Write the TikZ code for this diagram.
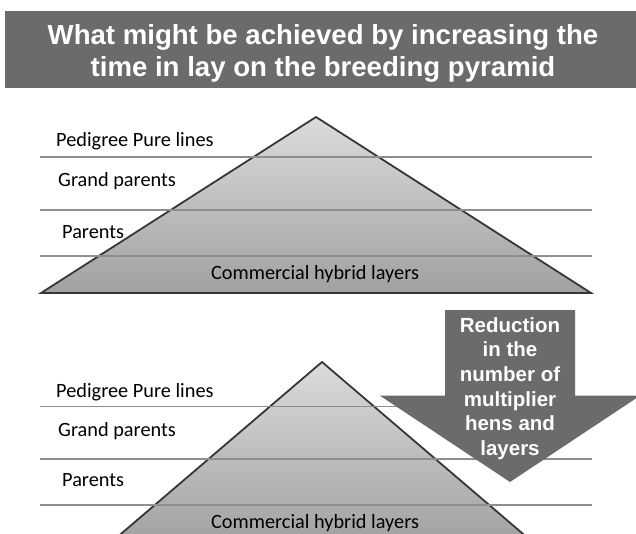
\documentclass[tikz,border=0pt]{standalone}
\usepackage{fontspec}
\setmainfont{Carlito}
\newfontfamily\headfont{Liberation Sans}
\definecolor{bargray}{HTML}{6B6B6B}
\definecolor{rulegray}{HTML}{8E8E8E}
\definecolor{edgegray}{HTML}{363636}
\tikzset{>=latex,
  heading/.style={anchor=north,inner sep=0,align=center,text=white,
    font=\headfont\bfseries\fontsize{27.6}{32.7}\selectfont},
  arrowtext/.style={anchor=north,inner sep=0,align=center,text=white,
    font=\headfont\bfseries\fontsize{20.5}{24.6}\selectfont},
  layer/.style={anchor=base west,inner sep=0,font=\fontsize{20.3}{24}\selectfont},
  hybrid/.style={anchor=base,inner sep=0,font=\fontsize{20.3}{24}\selectfont},
  pyramid/.style={draw=edgegray,line width=1.8,top color=black!14,bottom color=black!37},
  rule/.style={rulegray,line width=1.4}
}
\begin{document}
\begin{tikzpicture}[x=1pt,y=-1pt]
  \useasboundingbox (0,0) rectangle (636,534);
  \clip (0,0) rectangle (636,534);
  % Title
  \fill[bargray] (5,11.5) rectangle (640,88);
  \node[heading] (title) at (323,24)
  {What might be achieved by increasing the\\time in lay on the breeding pyramid};
  % Upper pyramid
  \filldraw[pyramid] (41,293) -- (316,117) -- (591,293) -- cycle;
  \foreach \y in {157,210,256}
    \draw[rule] (40,\y) -- (592,\y);
  \node[layer] (pure1) at (56,147) {Pedigree Pure lines};
  \node[layer] (grand1) at (58,187) {Grand parents};
  \node[layer] (parents1) at (62,239) {Parents};
  \node[hybrid] (hybrid1) at (315,279) {Commercial hybrid layers};
  % Lower pyramid
  \filldraw[pyramid] (108,545) -- (322,362) -- (536,545) -- cycle;
  \foreach \y in {406.5,459,505}
    \draw[rule] (40,\y) -- (592,\y);
  \node[layer] (pure2) at (56,397.7) {Pedigree Pure lines};
  \node[layer] (grand2) at (58,436.7) {Grand parents};
  \node[layer] (parents2) at (62,486.7) {Parents};
  \node[hybrid] (hybrid2) at (315,528) {Commercial hybrid layers};
  % Reduction arrow
  \fill[bargray] (445,310) -- (575,310) -- (575,395.7) -- (640,395.7)
    -- (510,482) -- (380,395.7) -- (445,395.7) -- cycle;
  \node[arrowtext] (reduction) at (510,317.2)
  {Reduction\\in the\\number of\\multiplier\\hens and\\layers};
\end{tikzpicture}
\end{document}
